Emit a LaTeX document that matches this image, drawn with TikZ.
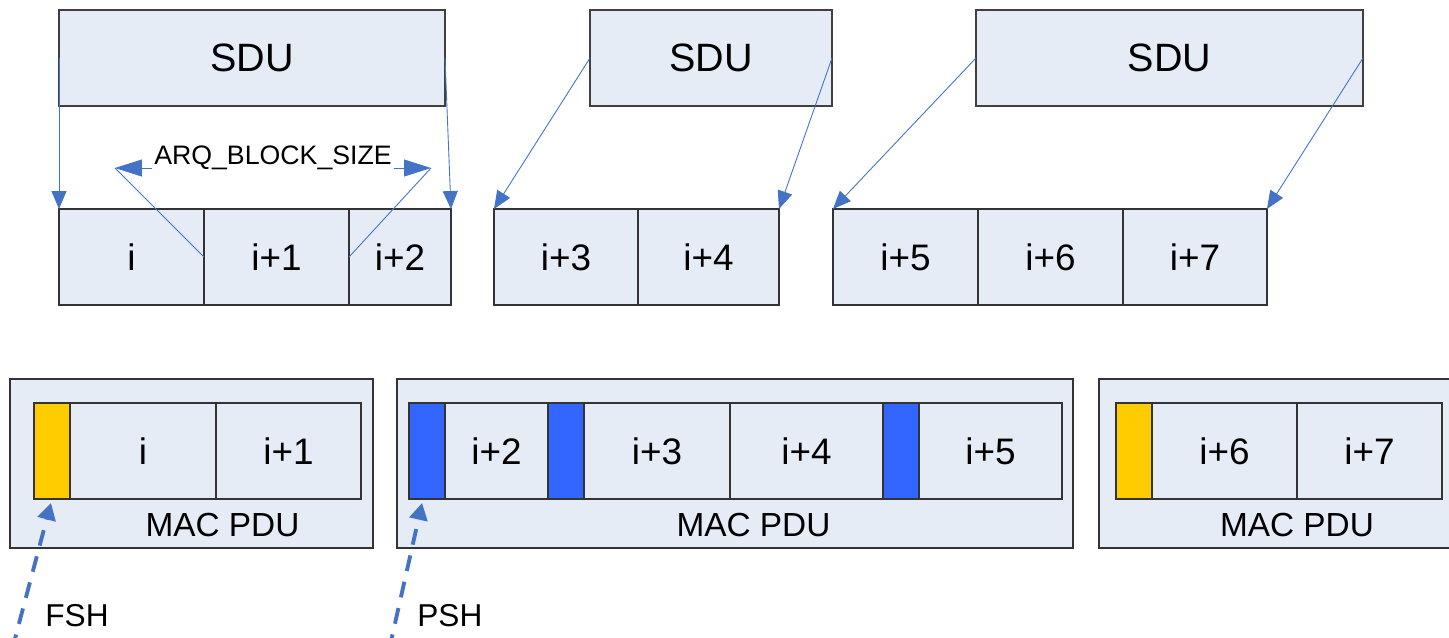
\documentclass[tikz,border=0pt]{standalone}
\usepackage{fontspec}
\setmainfont{Liberation Sans}
\usetikzlibrary{positioning,arrows.meta,calc}
\definecolor{PDUFill}{RGB}{230,236,246}
\definecolor{ArrBlue}{RGB}{68,114,196}
\definecolor{FSHYellow}{RGB}{255,204,0}
\definecolor{PSHBlue}{RGB}{51,102,255}
\def\px{0.02cm}

\begin{document}
\begin{tikzpicture}
    [x=\px,y=-\px,
     sdu/.style={draw=black!75,fill=PDUFill,line width=0.6pt,inner sep=0,outer sep=0,
       anchor=north west,minimum height=96*\px,font=\fontsize{22.5}{26}\selectfont},
     blk/.style={draw=black!80,fill=PDUFill,line width=0.6pt,inner sep=0,outer sep=0,
       minimum height=96*\px,font=\fontsize{21}{25}\selectfont},
     pdu/.style={draw=black!80,fill=PDUFill,line width=0.6pt,inner sep=0,outer sep=0,
       anchor=north west,minimum height=169*\px},
     fsh/.style={blk,anchor=north west,fill=FSHYellow,minimum width=36*\px},
     psh/.style={blk,anchor=north west,fill=PSHBlue,minimum width=36*\px},
     pdulbl/.style={font=\fontsize{19}{22}\selectfont,inner sep=0},
     hdrlbl/.style={font=\fontsize{18}{22}\selectfont,inner sep=0,anchor=west},
     arr/.style={draw=ArrBlue,line width=0.5pt,-{Triangle[length=0.36cm,width=0.3cm]}},
     sizearr/.style={draw=ArrBlue,line width=0.5pt,-{Triangle[length=0.54cm,width=0.34cm]}},
     thinln/.style={draw=ArrBlue,line width=0.5pt},
     hdrarr/.style={draw=ArrBlue,line width=2.2pt,dash pattern=on 0.32cm off 0.22cm,
       -{Triangle[length=0.34cm,width=0.36cm]},shorten >=0.08cm},
    ]
    \useasboundingbox (0,0) rectangle (1449,637);

    % SDUs
    \node[sdu,minimum width=386*\px] (sdu1) at (59,10) {SDU};
    \node[sdu,minimum width=242*\px] (sdu2) at (590,10) {SDU};
    \node[sdu,minimum width=387*\px] (sdu3) at (976,10) {SDU};

    % ARQ blocks
    \node[blk,anchor=north west,minimum width=145*\px] (b0) at (59,209) {i};
    \node[blk,right=0pt of b0,minimum width=145*\px] (b1) {i+1};
    \node[blk,right=0pt of b1,minimum width=102*\px] (b2) {i+2};
    \node[blk,anchor=north west,minimum width=144*\px] (b3) at (494,209) {i+3};
    \node[blk,right=0pt of b3,minimum width=141*\px] (b4) {i+4};
    \node[blk,anchor=north west,minimum width=145*\px] (b5) at (833,209) {i+5};
    \node[blk,right=0pt of b5,minimum width=145*\px] (b6) {i+6};
    \node[blk,right=0pt of b6,minimum width=144*\px] (b7) {i+7};

    \path (sdu1.west) edge[arr] (b0.north west) (sdu1.east) edge[arr] (b2.north east)
      (sdu2.west) edge[arr] (b3.north west) (sdu2.east) edge[arr] (b4.north east)
      (sdu3.west) edge[arr] (b5.north west) (sdu3.east) edge[arr] (b7.north east);

    % block size
    \coordinate (arqL) at (115,168);
    \coordinate (arqR) at (431,168);
    \node[font=\fontsize{15.2}{18}\selectfont,inner sep=1pt] (arq) at (273,158) {ARQ\_BLOCK\_SIZE};
    \draw[sizearr] (arq.west |- arqL) -- (arqL);
    \draw[sizearr] (arq.east |- arqR) -- (arqR);
    \draw[thinln] (arqL) -- (b1.west);
    \draw[thinln] (arqR) -- (b2.west);

    % MAC PDUs
    \node[pdu,minimum width=363*\px] (p1) at (10,379) {};
    \node[fsh] (h1) at (34,403) {};
    \node[blk,right=0pt of h1,minimum width=146*\px] (c0) {i};
    \node[blk,right=0pt of c0,minimum width=145*\px] (c1) {i+1};
    \node[pdulbl] (m1) at ($(c0.south west)!0.5!(c1.south east)+(7,26)$) {MAC PDU};

    \node[pdu,minimum width=676*\px] (p2) at (397,379) {};
    \node[psh] (h2) at (409,403) {};
    \node[blk,right=0pt of h2,minimum width=103*\px] (c2) {i+2};
    \node[psh,right=0pt of c2,anchor=west] (h3) {};
    \node[blk,right=0pt of h3,minimum width=146*\px] (c3) {i+3};
    \node[blk,right=0pt of c3,minimum width=153*\px] (c4) {i+4};
    \node[psh,right=0pt of c4,anchor=west] (h4) {};
    \node[blk,right=0pt of h4,minimum width=143*\px] (c5) {i+5};
    \node[pdulbl] (m2) at ($(c2.south west)!0.5!(c5.south east)+(0,26)$) {MAC PDU};

    \node[pdu,minimum width=380*\px] (p3) at (1099,379) {};
    \node[fsh] (h5) at (1116,403) {};
    \node[blk,right=0pt of h5,minimum width=145*\px] (c6) {i+6};
    \node[blk,right=0pt of c6,minimum width=145*\px] (c7) {i+7};
    \node[pdulbl] (m3) at ($(c6.south west)!0.5!(c7.south east)+(0,26)$) {MAC PDU};

    % subheaders
    \coordinate (fshS) at (12,650);
    \coordinate (pshS) at (389,650);
    \draw[hdrarr] (fshS) -- (h1.south);
    \draw[hdrarr] (pshS) -- ($(h2.south)+(-4,0)$);
    \node[hdrlbl] (fshL) at (45,616) {FSH};
    \node[hdrlbl] (pshL) at (417,616) {PSH};
\end{tikzpicture}
\end{document}
